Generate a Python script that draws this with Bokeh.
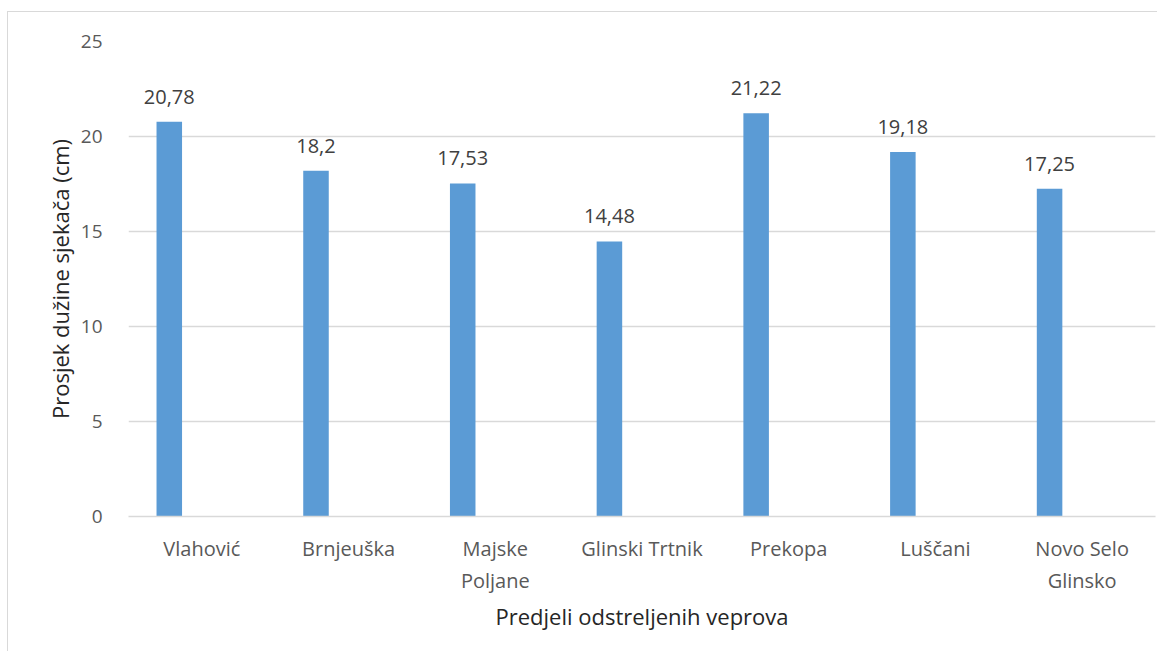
from bokeh.plotting import figure
from bokeh.models import ColumnDataSource, FactorRange, Range1d, FixedTicker, LabelSet
from bokeh.core.properties import value
from bokeh.transform import dodge
from bokeh.embed import file_html
from bokeh.resources import INLINE

# ---- data ----
categories = ["Vlahović", "Brnjeuška", "Majske\nPoljane", "Glinski Trtnik",
              "Prekopa", "Luščani", "Novo Selo\nGlinsko"]
values = [20.78, 18.2, 17.53, 14.48, 21.22, 19.18, 17.25]
value_labels = [f"{v:g}".replace(".", ",") for v in values]
y_ticks = [0, 5, 10, 15, 20, 25]

FONT = "Open Sans"
BAR = "#5B9BD5"
GRID = "#D9D9D9"

src = ColumnDataSource(dict(cat=categories, val=values, lab=value_labels))

p = figure(
    x_range=FactorRange(factors=categories, range_padding=0),
    y_range=Range1d(0, 25),
    width=1150, height=640,
    output_backend="svg", toolbar_location=None,
    min_border_left=120, min_border_right=3,
    min_border_top=29, min_border_bottom=136,
    background_fill_color="white", border_fill_color="white",
    margin=(11, 0, 0, 7),
)
p.styles = {"border-left": "1px solid #D9D9D9", "border-top": "1px solid #D9D9D9"}
p.outline_line_color = None

p.vbar(x=dodge("cat", -0.222, range=p.x_range), top="val", width=0.174,
       source=src, fill_color=BAR, line_color=None)

labels = LabelSet(x=dodge("cat", -0.222, range=p.x_range), y="val", text="lab",
                  source=src, text_align="center", text_baseline="alphabetic",
                  y_offset=18, text_font=value(FONT), text_font_size=value("20px"),
                  text_color=value("#404040"))
p.add_layout(labels)

# y axis
p.yaxis.ticker = FixedTicker(ticks=y_ticks)
p.yaxis.axis_line_color = None
p.yaxis.major_tick_line_color = None
p.yaxis.minor_tick_line_color = None
p.yaxis.major_label_standoff = 20
p.yaxis.major_label_text_font = FONT
p.yaxis.major_label_text_font_size = "19px"
p.yaxis.major_label_text_color = "#595959"
p.yaxis.axis_label = "Prosjek dužine sjekača (cm)"
p.yaxis.axis_label_text_font = FONT
p.yaxis.axis_label_text_font_size = "22px"
p.yaxis.axis_label_text_font_style = "normal"
p.yaxis.axis_label_text_color = "#262626"
p.yaxis.axis_label_standoff = 3

# x axis
p.xaxis.axis_line_color = GRID
p.xaxis.axis_line_width = 1.5
p.xaxis.major_tick_line_color = None
p.xaxis.minor_tick_line_color = None
p.xaxis.major_label_standoff = 12
p.xaxis.major_label_text_font = FONT
p.xaxis.major_label_text_font_size = "20px"
p.xaxis.major_label_text_color = "#595959"
p.xaxis.axis_label = "Predjeli odstreljenih veprova"
p.xaxis.axis_label_text_font = FONT
p.xaxis.axis_label_text_font_size = "22px"
p.xaxis.axis_label_text_font_style = "normal"
p.xaxis.axis_label_text_color = "#262626"
p.xaxis.axis_label_standoff = 4

p.xgrid.grid_line_color = None
p.ygrid.grid_line_color = GRID
p.ygrid.grid_line_width = 1.5

open("out.html", "w").write(file_html(p, INLINE))
